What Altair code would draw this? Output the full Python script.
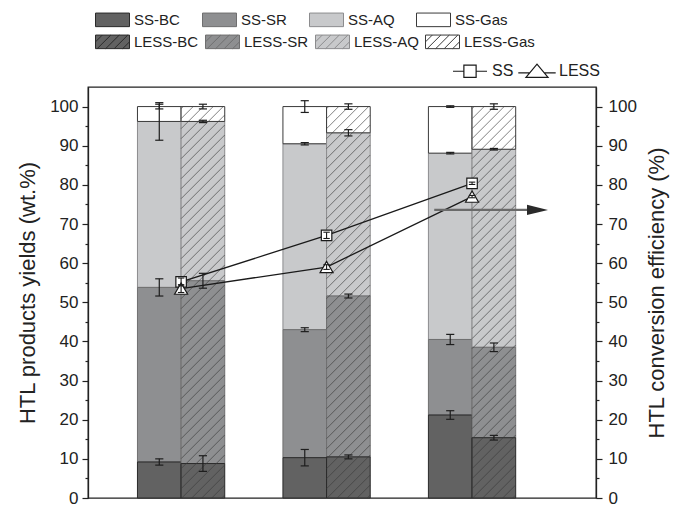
import altair as alt
import pandas as pd
import numpy as np

# ---------------- data ----------------
temps = [250, 300, 350]
components = ["BC", "SR", "AQ", "Gas"]

ss_bc = [9.2, 10.3, 21.2]
ss_sr = [44.6, 32.7, 19.3]
ss_aq = [42.4, 47.5, 47.6]
ss_gas = [3.8, 9.5, 11.9]
less_bc = [8.8, 10.5, 15.4]
less_sr = [46.7, 41.1, 23.1]
less_aq = [40.7, 41.7, 50.6]
less_gas = [3.8, 6.7, 10.9]

ss_bc_err = [0.8, 2.1, 1.1]
ss_sr_err = [2.2, 0.5, 1.3]
ss_aq_err = [4.8, 0.3, 0.2]
ss_gas_err = [0.6, 1.5, 0.2]
less_bc_err = [2.0, 0.5, 0.6]
less_sr_err = [1.9, 0.5, 1.1]
less_aq_err = [0.3, 0.8, 0.2]
less_gas_err = [0.6, 0.7, 0.7]

series_names = ["SS", "LESS"]
ss_conv = [55.2, 67.1, 80.4]
less_conv = [53.5, 59.0, 77.0]
ss_conv_err = [1.0, 0.8, 0.3]
less_conv_err = [1.0, 0.6, 0.3]

arrow_x = [337.0, 372.5]
arrow_y = [73.6, 73.6]

# ---------------- layout / style ----------------
W, H = 508, 411
XMIN, XMAX = 218.0, 392.6
YMIN, YMAX = 0.0, 105.0
BW = 15.0          # bar width in x units
CAP = 1.4          # error cap half width in x units
FONT = "Liberation Sans, Arial, Helvetica, sans-serif"
fill_colors = ["#626262", "#8e8f91", "#c8c9cb", "#ffffff"]
stroke_colors = ["#2a2a2a", "#6f6f70", "#8c8c8e", "#3a3a3a"]
draw_rank = {"AQ": 0, "SR": 1, "Gas": 2, "BC": 3}

kx = W / (XMAX - XMIN)
ky = H / (YMAX - YMIN)


def stack_rows(group, vals, errs, side):
    rows = []
    for i, t in enumerate(temps):
        base = 0.0
        for c, v, e in zip(components, vals, errs):
            top = base + v[i]
            x0 = t - BW if side < 0 else t
            rows.append(dict(temp=t, comp=f"{group}-{c}", short=c, y0=base, y1=top,
                             err=e[i], x0=x0, x1=x0 + BW, xc=x0 + BW / 2,
                             rank=draw_rank[c]))
            base = top
    return rows


ss_df = pd.DataFrame(stack_rows("SS", [ss_bc, ss_sr, ss_aq, ss_gas],
                                [ss_bc_err, ss_sr_err, ss_aq_err, ss_gas_err], -1))
less_df = pd.DataFrame(stack_rows("LESS", [less_bc, less_sr, less_aq, less_gas],
                                  [less_bc_err, less_sr_err, less_aq_err, less_gas_err], 1))
ss_df = ss_df.sort_values("rank", kind="stable")
less_df = less_df.sort_values("rank", kind="stable")

err_df = pd.concat([ss_df, less_df])
err_df = err_df.assign(lo=err_df.y1 - err_df.err, hi=err_df.y1 + err_df.err)
caps = pd.concat([
    pd.DataFrame(dict(cy=err_df.lo, cx0=err_df.xc - CAP, cx1=err_df.xc + CAP)),
    pd.DataFrame(dict(cy=err_df.hi, cx0=err_df.xc - CAP, cx1=err_df.xc + CAP)),
])

# hatch lines over the LESS columns (45 degree in pixel space)
step = 10.0
hatch = []
for t in temps:
    Wp = BW * kx
    Hp = 100.0 * ky
    c = -Wp + 3.0
    while c < Hp:
        xa = max(0.0, -c)
        xb = min(Wp, Hp - c)
        if xb > xa:
            hatch.append(dict(hx0=t + xa / kx, hy0=(xa + c) / ky,
                              hx1=t + xb / kx, hy1=(xb + c) / ky))
        c += step
hatch_df = pd.DataFrame(hatch)

conv_df = pd.DataFrame(dict(temp=temps * 2, conv=ss_conv + less_conv,
                            err=ss_conv_err + less_conv_err,
                            series=["SS"] * 3 + ["LESS"] * 3))
conv_df = conv_df.assign(lo=conv_df.conv - conv_df.err, hi=conv_df.conv + conv_df.err)
conv_caps = pd.concat([
    pd.DataFrame(dict(cy=conv_df.lo, cx0=conv_df.temp - 1.1, cx1=conv_df.temp + 1.1)),
    pd.DataFrame(dict(cy=conv_df.hi, cx0=conv_df.temp - 1.1, cx1=conv_df.temp + 1.1)),
])

arrow_df = pd.DataFrame(dict(ax=[arrow_x[0]], ax2=[arrow_x[1]], ay=[arrow_y[0]]))
head_df = pd.DataFrame(dict(ax=[arrow_x[1]], ay=[arrow_y[1]]))

# ---------------- symbols ----------------
RH = 0.4
rect_path = f"M-1,-{RH}H1V{RH}H-1Z"
hatch_parts = [rect_path]
x0 = -1.9
while x0 < 1.0:
    xa, xb = max(x0, -1.0), min(x0 + 2 * RH, 1.0)
    if xb > xa:
        hatch_parts.append(f"M{xa:.3f},{RH - (xa - x0):.3f}L{xb:.3f},{RH - (xb - x0):.3f}")
    x0 += 0.5
hatch_path = "".join(hatch_parts)
sq_line_path = "M-1,0H-0.36M0.36,0H1M-0.36,-0.36H0.36V0.36H-0.36Z"
tri_line_path = "M-1.1,0.1H-0.43M0.43,0.1H1.1M-0.65,0.36L0,-0.42L0.65,0.36Z"
head_path = "M-1,-0.48L1,0L-1,0.48Z"

# ---------------- scales / axes ----------------
xs = alt.Scale(domain=[XMIN, XMAX], nice=False, zero=False)
ys = alt.Scale(domain=[YMIN, YMAX], nice=False, zero=False)
major = list(range(0, 101, 10))
minor = list(range(5, 100, 10))

x_axis = alt.Axis(values=temps, labelExpr="datum.value + ' °C'", title=None, ticks=False,
                  labelFontSize=17, labelPadding=4, labelOffset=-5, labelFlush=False, grid=False)
y_left = alt.Axis(orient="left", values=major, tickSize=6, labelFontSize=17, labelPadding=4,
                  title="HTL products yields (wt.%)", titleFontSize=22, titlePadding=10, grid=False)
y_left_minor = alt.Axis(orient="left", values=minor, tickSize=3, labels=False, domain=False,
                        title=None, grid=False)
y_right = alt.Axis(orient="right", values=major, tickSize=6, labelFontSize=17, labelPadding=6,
                   title="HTL conversion efficiency (%)", titleFontSize=22, titlePadding=10,
                   titleAngle=270, titleBaseline="top", grid=False)
y_right_minor = alt.Axis(orient="right", values=minor, tickSize=3, labels=False, domain=False,
                         title=None, grid=False)


def bar_legend(labels_y, sym, pad):
    return alt.Legend(orient="none", legendX=7, legendY=labels_y, direction="horizontal",
                      columns=4, gridAlign="all", columnPadding=pad, title=None,
                      symbolType=sym, symbolSize=1156, symbolStrokeColor="#333",
                      symbolStrokeWidth=1, labelOffset=4, labelFontSize=15, padding=0)


ss_bars = alt.Chart(ss_df).mark_rect(strokeWidth=1).encode(
    x=alt.X("x0:Q", scale=xs, axis=x_axis),
    x2="x1:Q",
    y=alt.Y("y0:Q", scale=ys, axis=y_left),
    y2="y1:Q",
    fill=alt.Fill("comp:N", scale=alt.Scale(domain=[f"SS-{c}" for c in components], range=fill_colors),
                  legend=bar_legend(-85, rect_path, 13)),
    stroke=alt.Stroke("comp:N", scale=alt.Scale(domain=[f"SS-{c}" for c in components], range=stroke_colors),
                      legend=None),
)

less_bars = alt.Chart(less_df).mark_rect(strokeWidth=1).encode(
    x=alt.X("x0:Q", scale=xs, axis=None),
    x2="x1:Q",
    y=alt.Y("y0:Q", scale=ys, axis=y_right),
    y2="y1:Q",
    fill=alt.Fill("comp:N", scale=alt.Scale(domain=[f"LESS-{c}" for c in components], range=fill_colors),
                  legend=bar_legend(-63, hatch_path, -4)),
    stroke=alt.Stroke("comp:N", scale=alt.Scale(domain=[f"LESS-{c}" for c in components], range=stroke_colors),
                      legend=None),
)

hatch_layer = alt.Chart(hatch_df).mark_rule(color="#3a3a3a", strokeWidth=0.8, opacity=0.8).encode(
    x=alt.X("hx0:Q", scale=xs, axis=None), x2="hx1:Q",
    y=alt.Y("hy0:Q", scale=ys, axis=y_left_minor), y2="hy1:Q",
)

err_rules = alt.Chart(err_df).mark_rule(color="#1e1e1e", strokeWidth=1.2).encode(
    x=alt.X("xc:Q", scale=xs, axis=None),
    y=alt.Y("lo:Q", scale=ys, axis=y_right_minor), y2="hi:Q",
)
err_caps = alt.Chart(caps).mark_rule(color="#1e1e1e", strokeWidth=1.2).encode(
    x=alt.X("cx0:Q", scale=xs, axis=None), x2="cx1:Q",
    y=alt.Y("cy:Q", scale=ys, axis=None),
)

lines = alt.Chart(conv_df).mark_line(color="#1a1a1a", strokeWidth=1.3).encode(
    x=alt.X("temp:Q", scale=xs, axis=None),
    y=alt.Y("conv:Q", scale=ys, axis=None),
    detail="series:N",
)

# invisible layer that only carries the line/marker legend
legend_layer = alt.Chart(conv_df).mark_point(
    opacity=0, filled=False, color="#1a1a1a", strokeWidth=1.2
).encode(
    x=alt.X("temp:Q", scale=xs, axis=None),
    y=alt.Y("conv:Q", scale=ys, axis=None),
    shape=alt.Shape("series:N", scale=alt.Scale(domain=series_names, range=[sq_line_path, tri_line_path]),
                    legend=alt.Legend(orient="none", legendX=364, legendY=-34, title=None,
                                      direction="horizontal", columns=2, columnPadding=1,
                                      symbolSize=1156, symbolOpacity=1, symbolStrokeWidth=1.2,
                                      labelOffset=4, labelFontSize=16, padding=0)),
)


def point_layer(name, shape, size):
    return alt.Chart(conv_df[conv_df.series == name]).mark_point(
        shape=shape, filled=True, fill="white", stroke="#1a1a1a", strokeWidth=1.2, size=size,
        opacity=1,
    ).encode(
        x=alt.X("temp:Q", scale=xs, axis=None),
        y=alt.Y("conv:Q", scale=ys, axis=None),
    )


ss_points = point_layer("SS", "square", 110)
less_points = point_layer("LESS", "triangle-up", 170)

conv_rules = alt.Chart(conv_df).mark_rule(color="#1a1a1a", strokeWidth=1.1).encode(
    x=alt.X("temp:Q", scale=xs, axis=None),
    y=alt.Y("lo:Q", scale=ys, axis=None), y2="hi:Q",
)
conv_cap_layer = alt.Chart(conv_caps).mark_rule(color="#1a1a1a", strokeWidth=1.1).encode(
    x=alt.X("cx0:Q", scale=xs, axis=None), x2="cx1:Q",
    y=alt.Y("cy:Q", scale=ys, axis=None),
)

arrow_line = alt.Chart(arrow_df).mark_rule(color="#6a6a6a", strokeWidth=2.2).encode(
    x=alt.X("ax:Q", scale=xs, axis=None), x2="ax2:Q",
    y=alt.Y("ay:Q", scale=ys, axis=None),
)
arrow_head = alt.Chart(head_df).mark_point(shape=head_path, filled=True, color="#2a2a2a",
                                           size=441, opacity=1).encode(
    x=alt.X("ax:Q", scale=xs, axis=None),
    y=alt.Y("ay:Q", scale=ys, axis=None),
)

chart = alt.layer(
    ss_bars, less_bars, hatch_layer, err_rules, err_caps, lines, legend_layer,
    ss_points, less_points, conv_rules, conv_cap_layer, arrow_line, arrow_head,
).resolve_scale(
    fill="independent", stroke="independent"
).resolve_axis(
    y="independent"
).properties(
    width=W, height=H,
    autosize=alt.AutoSizeParams(type="none"),
    padding={"left": 80, "top": 79, "right": 81, "bottom": 21},
).configure_view(
    stroke="#222", strokeWidth=1.3
).configure_axis(
    labelFont=FONT, titleFont=FONT, labelColor="#222", titleColor="#222",
    domainColor="#222", tickColor="#222", domainWidth=1.3, tickWidth=1.2,
    titleFontWeight="normal", grid=False,
).configure_legend(
    labelFont=FONT, labelColor="#222",
)

chart.save("out.html", embed_options={"renderer": "svg", "actions": False})
